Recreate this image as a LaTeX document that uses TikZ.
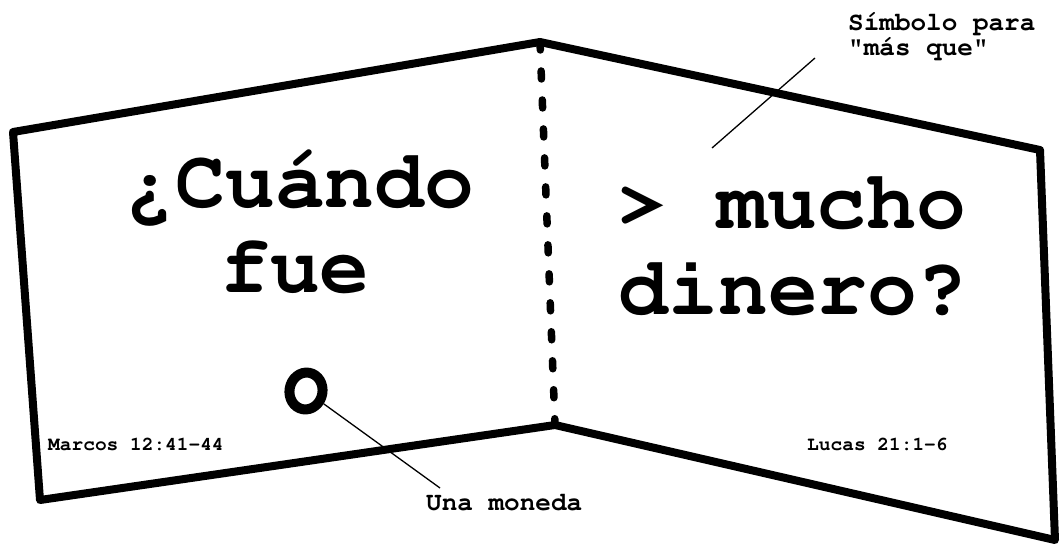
\documentclass[tikz,border=0pt]{standalone}
\usepackage[T1,TU]{fontenc}
\usepackage{fontspec}
\setmainfont{Liberation Mono}
\usetikzlibrary{shapes.geometric,positioning}
\newcommand{\courbf}{\fontencoding{T1}\fontfamily{pcr}\fontseries{b}\selectfont}

\begin{document}
\begin{tikzpicture}[
    x=1pt, y=-1pt,
    panel/.style={line width=8pt, line join=round, line cap=round},
    fold/.style={line width=7.5pt, line cap=round, dash pattern=on 8pt off 21pt},
    big/.style={font=\fontsize{83}{90}\courbf, anchor=base, inner sep=0pt},
    verse/.style={font=\fontsize{19.5}{22}\courbf, anchor=base west, inner sep=0pt},
    note/.style={font=\fontsize{26}{25}\courbf, align=left, inner sep=0pt},
    coinmark/.style={ellipse, draw, line width=10pt, minimum width=33pt, minimum height=37pt, rotate=-10},
    leader/.style={line width=1.3pt}
]
\useasboundingbox (0,0) rectangle (1061,558);

% the folded card
\coordinate (tl) at (13,132);
\coordinate (ft) at (540,42);
\coordinate (fb) at (555,425);
\coordinate (bl) at (40,500);
\coordinate (tr) at (1040,150);
\coordinate (br) at (1055,540);
\draw[panel] (ft) -- (tl) -- (bl) -- (fb) -- (br) -- (tr) -- cycle;
\draw[fold] (ft) -- (fb);

% left page
\node[big] (cuando) at (300,207) {?`Cu\'ando};
\node[big] (fue) at (295,292) {fue};
\node[coinmark] (coin) at (306,391) {};
\node[verse] (marcos) at (48,450) {Marcos 12:41-44};

% right page
\node[big] (mucho) at (792,228) {> mucho};
\node[big] (dinero) at (793,314) {dinero?};
\node[verse] (lucas) at (807,450) {Lucas 21:1-6};

% notes
\node[note, anchor=base west] (moneda) at (426,510) {Una moneda};
\coordinate (monedatip) at (440,488);
\draw[leader] (coin) -- (monedatip);

\node[note, anchor=base west] (simbolo) at (848,55) {S\'{\i}mbolo para\\"m\'as que"};
\coordinate (simbolotip) at (815,58);
\coordinate (mayortip) at (712,148);
\draw[leader] (simbolotip) -- (mayortip);
\end{tikzpicture}
\end{document}
